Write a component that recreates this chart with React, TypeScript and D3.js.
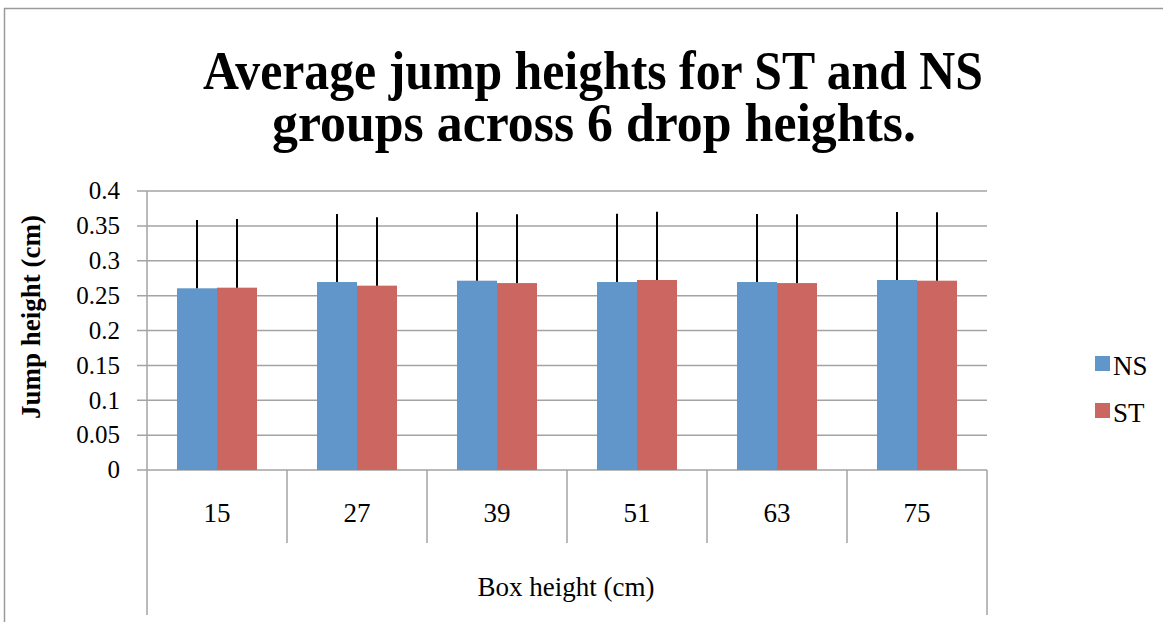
import React from "react";
import * as d3 from "d3";

const categories = ["15", "27", "39", "51", "63", "75"];
const seriesNames = ["NS", "ST"];
const nsValues = [0.2605, 0.2695, 0.2714, 0.2695, 0.2695, 0.2724];
const stValues = [0.2614, 0.2643, 0.268, 0.2724, 0.268, 0.2714];
const nsErrorTop = [0.3584, 0.367, 0.3694, 0.3675, 0.367, 0.3699];
const stErrorTop = [0.3599, 0.3623, 0.3666, 0.3704, 0.3666, 0.3694];
const yTicks = [0, 0.05, 0.1, 0.15, 0.2, 0.25, 0.3, 0.35, 0.4];
const titleLines = ["Average jump heights for ST and NS", "groups across 6 drop heights."];
const yTitle = "Jump height (cm)";
const xTitle = "Box height (cm)";
const colors = ["#6096c9", "#cc6660"];

const W = 1163;
const H = 622;
const FONT = "'Liberation Serif', 'DejaVu Serif', serif";
const GRID = "#a3a3a3";

export default function App() {
  const plotL = 147;
  const plotR = 987;
  const plotT = 191;
  const plotB = 470;
  const x = d3.scaleBand<string>().domain(categories).range([plotL, plotR]).paddingInner(0).paddingOuter(0);
  const bw = x.bandwidth();
  const xs = d3
    .scaleBand<string>()
    .domain(seriesNames)
    .range([bw * (30 / 140), bw * (110 / 140)])
    .padding(0);
  const y = d3.scaleLinear().domain([0, 0.4]).range([plotB, plotT]);
  const fmt = (v: number) => (v === 0 ? "0" : String(+v.toFixed(2)));
  const series = [
    { name: "NS", values: nsValues, err: nsErrorTop, color: colors[0] },
    { name: "ST", values: stValues, err: stErrorTop, color: colors[1] },
  ];
  const boundaries = categories.map((c) => x(c)!).concat([plotR]);

  return (
    <svg
      width={W}
      height={H}
      style={{ position: "absolute", left: 0, top: 0, background: "#fff" }}
      fontFamily={FONT}
    >
      <rect x={0} y={0} width={W} height={H} fill="#fff" />
      {/* outer frame */}
      <line x1={4} x2={W} y1={8.5} y2={8.5} stroke="#9a9a9a" strokeWidth={1.5} />
      <line x1={4.5} x2={4.5} y1={8} y2={H} stroke="#9a9a9a" strokeWidth={1.5} />

      {/* title */}
      <text x={593} y={89} textAnchor="middle" fontSize={55} fontWeight="bold" textLength={780} lengthAdjust="spacingAndGlyphs">
        {titleLines[0]}
      </text>
      <text x={594} y={141} textAnchor="middle" fontSize={55} fontWeight="bold" textLength={644} lengthAdjust="spacingAndGlyphs">
        {titleLines[1]}
      </text>

      {/* gridlines + y ticks */}
      {yTicks.map((t) => (
        <g key={t}>
          <line x1={137} x2={plotR} y1={y(t)} y2={y(t)} stroke={GRID} strokeWidth={1.5} />
          <text x={120} y={y(t)} dy="0.33em" textAnchor="end" fontSize={25}>
            {fmt(t)}
          </text>
        </g>
      ))}

      {/* axis lines */}
      <line x1={plotL} x2={plotL} y1={plotT} y2={615} stroke={GRID} strokeWidth={1.5} />
      <line x1={plotR} x2={plotR} y1={plotB} y2={615} stroke={GRID} strokeWidth={1.5} />
      {boundaries.slice(1, -1).map((b, i) => (
        <line key={i} x1={b} x2={b} y1={plotB} y2={543} stroke={GRID} strokeWidth={1.5} />
      ))}

      {/* bars */}
      {series.map((s) =>
        categories.map((c, i) => {
          const bx = x(c)! + xs(s.name)!;
          return (
            <rect
              key={s.name + c}
              x={bx}
              y={y(s.values[i])}
              width={xs.bandwidth()}
              height={plotB - y(s.values[i])}
              fill={s.color}
            />
          );
        })
      )}
      {/* error bars */}
      {series.map((s) =>
        categories.map((c, i) => {
          const cx = x(c)! + xs(s.name)! + xs.bandwidth() / 2;
          return (
            <line
              key={"e" + s.name + c}
              x1={cx}
              x2={cx}
              y1={y(s.values[i])}
              y2={y(s.err[i])}
              stroke="#000"
              strokeWidth={2}
            />
          );
        })
      )}

      {/* x labels */}
      {categories.map((c) => (
        <text key={c} x={x(c)! + bw / 2} y={522} textAnchor="middle" fontSize={27}>
          {c}
        </text>
      ))}
      <text x={566} y={596} textAnchor="middle" fontSize={27}>
        {xTitle}
      </text>

      {/* y title */}
      <text
        transform={`translate(40,317) rotate(-90)`}
        textAnchor="middle"
        fontSize={27}
        fontWeight="bold"
      >
        {yTitle}
      </text>

      {/* legend */}
      {series.map((s, i) => (
        <g key={s.name} transform={`translate(1095,${356 + i * 47})`}>
          <rect x={0} y={0} width={15} height={15} fill={s.color} />
          <text x={18} y={19} fontSize={27}>
            {s.name}
          </text>
        </g>
      ))}
    </svg>
  );
}
